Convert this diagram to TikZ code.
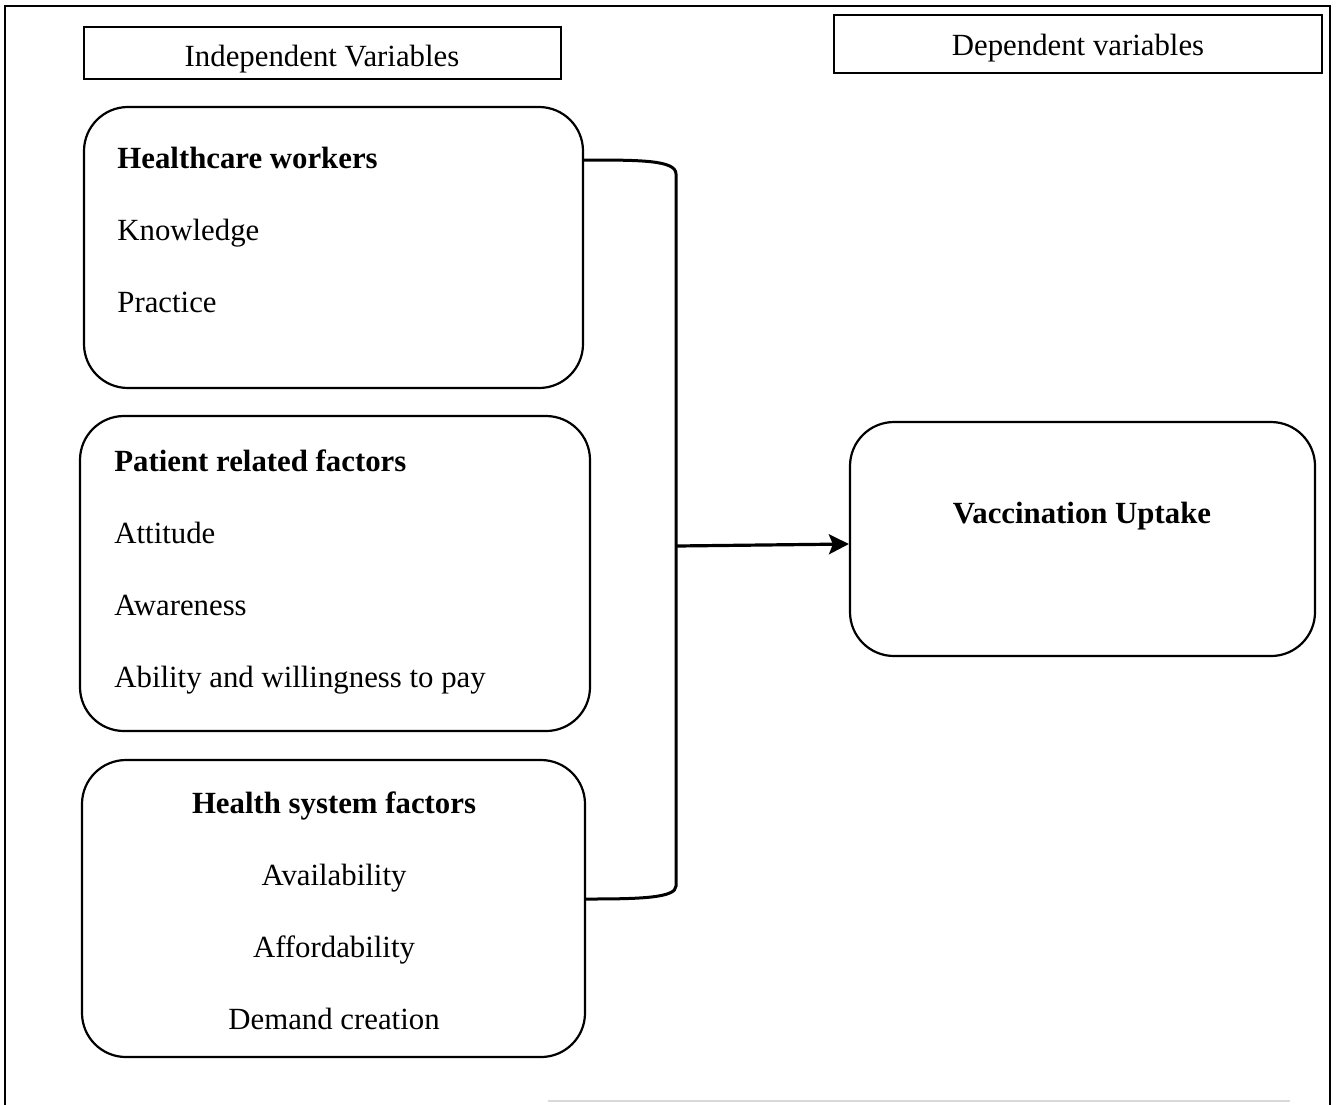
\documentclass[tikz,border=0pt]{standalone}
\usepackage{fontspec}
\setmainfont{Liberation Serif}
\usetikzlibrary{arrows.meta}
\tikzset{
  headbox/.style={draw, line width=1.1pt, minimum height=26pt, inner sep=0pt},
  factorbox/.style={draw, line width=1.1pt, rounded corners=22pt, inner sep=0pt},
  txt/.style={font=\fontsize{15.4}{18}\selectfont, inner sep=0pt, anchor=base west},
  ctxt/.style={font=\fontsize{15.4}{18}\selectfont, inner sep=0pt, anchor=base},
  bfont/.style={font=\fontsize{15.4}{18}\selectfont\bfseries},
  bracket/.style={line width=1.5pt},
  arr/.style={line width=1.6pt, -{Stealth[length=10pt,width=10pt,inset=2pt]}}
}
\begin{document}
\begin{tikzpicture}[x=0.5pt,y=-0.5pt]
\useasboundingbox (0,0) rectangle (1336,1104);
% outer frame
\draw[line width=0.9pt] (5,1110) -- (5,6) -- (1330,6) -- (1330,1110);
\draw[gray!30, line width=0.8pt] (548,1101) -- (1290,1101);
% header boxes
\node[headbox, minimum width=238.5pt] (indep) at (322.5,53) {};
\node[ctxt] (indeptxt) at (322,66) {Independent Variables};
\node[headbox, minimum width=244pt, minimum height=29pt] (dep) at (1078,44) {};
\node[ctxt] (deptxt) at (1078,55) {Dependent variables};
% factor boxes
\node[factorbox, minimum width=249.5pt, minimum height=140.5pt] (hcw) at (333.5,247.5) {};
\node[txt, bfont] (hcw1) at (117,168) {Healthcare workers};
\node[txt] (hcw2) at (117,240) {Knowledge};
\node[txt] (hcw3) at (117,312) {Practice};

\node[factorbox, minimum width=255pt, minimum height=157.5pt] (pat) at (335,573.5) {};
\node[txt, bfont] (pat1) at (114,471) {Patient related factors};
\node[txt] (pat2) at (114,543) {Attitude};
\node[txt] (pat3) at (114,615) {Awareness};
\node[txt] (pat4) at (114,687) {Ability and willingness to pay};

\node[factorbox, minimum width=251.5pt, minimum height=148.5pt] (hsf) at (333.5,908.5) {};
\node[ctxt, bfont] (hsf1) at (334,813) {Health system factors};
\node[ctxt] (hsf2) at (334,885) {Availability};
\node[ctxt] (hsf3) at (334,957) {Affordability};
\node[ctxt] (hsf4) at (334,1029) {Demand creation};

% outcome box
\node[factorbox, minimum width=232.5pt, minimum height=117pt] (vac) at (1082.5,539) {};
\node[ctxt, bfont] (vactxt) at (1082,523) {Vaccination Uptake};

% connectors
\coordinate (top) at (hcw.east |- 0,160);
\coordinate (bot) at (hsf.east |- 0,899);
\coordinate (join) at (676,546);
\draw[bracket] (top) .. controls (640,160) and (676,160) .. (676,174)
  -- (676,886) .. controls (676,898) and (640,899) .. (bot);
\draw[arr] (join) -- (vac.west |- 0,544);
\end{tikzpicture}
\end{document}
